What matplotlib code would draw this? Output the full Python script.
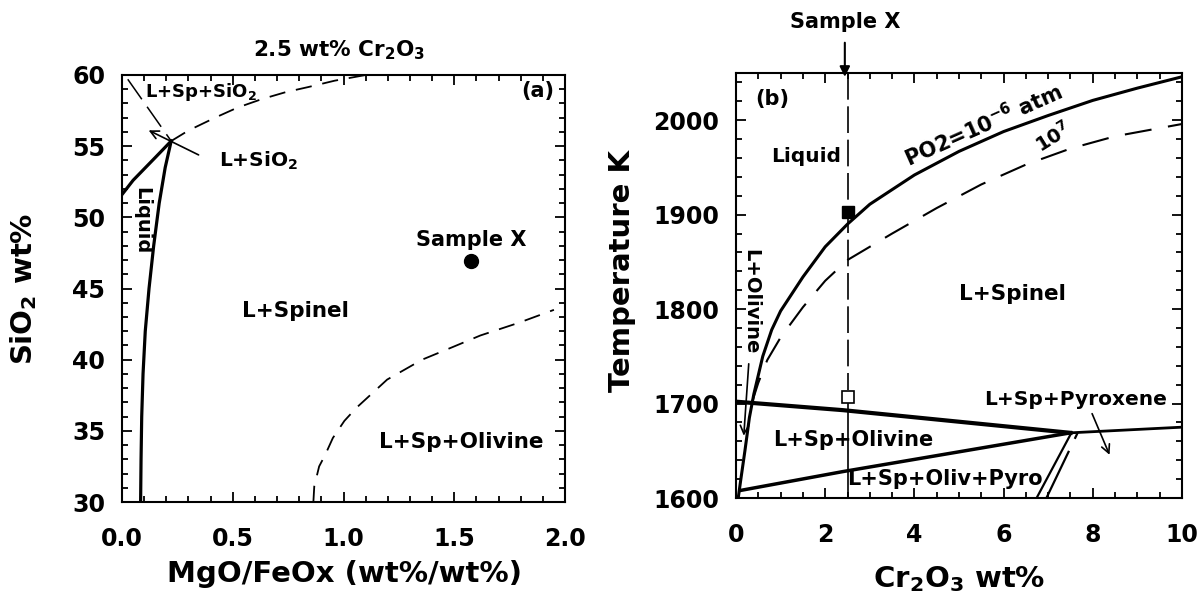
import matplotlib
matplotlib.use("Agg")
import matplotlib.pyplot as plt
from matplotlib.ticker import MultipleLocator, FormatStrFormatter

plt.rcParams['font.family'] = ['DejaVu Sans']
plt.rcParams['font.weight'] = 'bold'
plt.rcParams['axes.labelweight'] = 'bold'
plt.rcParams['mathtext.fontset'] = 'dejavusans'
plt.rcParams['mathtext.default'] = 'bf'

# ---------------- Panel (a) data ----------------
liq_x = [0.084, 0.086, 0.089, 0.095, 0.105, 0.122, 0.143, 0.168, 0.195, 0.222]
liq_y = [30, 33, 36, 39, 42, 45, 48, 51, 53.5, 55.36]
upper_solid_x = [0.0, 0.05, 0.1, 0.15, 0.222]
upper_solid_y = [51.6, 52.6, 53.4, 54.2, 55.36]
sio2_bound_x = [0.026, 0.222]
sio2_bound_y = [59.7, 55.36]
dash_top_x = [0.222, 0.3, 0.42, 0.52, 0.63, 0.74, 0.84, 0.96, 1.1]
dash_top_y = [55.36, 56.1, 57.0, 57.7, 58.3, 58.8, 59.15, 59.6, 60.0]
dash_low_x = [0.864, 0.868, 0.89, 0.917, 0.952, 1.004, 1.057, 1.127, 1.197, 1.355, 1.495, 1.618, 1.793, 1.95]
dash_low_y = [30.0, 31.1, 32.5, 33.3, 34.5, 35.7, 36.6, 37.6, 38.6, 40.0, 40.9, 41.7, 42.6, 43.5]
sample_a_x = [1.576]
sample_a_y = [46.9]

# ---------------- Panel (b) data ----------------
po6_x = [0.05, 0.1, 0.2, 0.3, 0.4, 0.6, 0.8, 1.0, 1.5, 2.0, 2.5, 3.0, 4.0, 5.0, 6.0, 7.0, 8.0, 9.0, 10.0]
po6_y = [1600, 1617, 1650, 1685, 1710, 1750, 1778, 1798, 1834, 1866, 1890, 1911, 1942, 1967, 1988, 2005, 2021, 2034, 2046]
po7_x = [0.35, 0.5, 0.7, 1.0, 1.5, 2.0, 2.5, 3.0, 3.5, 4.5, 5.5, 6.5, 7.5, 8.5, 10.0]
po7_y = [1700, 1722, 1746, 1770, 1802, 1830, 1852, 1866, 1880, 1907, 1932, 1953, 1970, 1983, 1996]
oliv_top_x = [0.0, 2.4, 7.5]
oliv_top_y = [1702, 1693, 1669]
oliv_bot_x = [0.1, 2.4, 7.5]
oliv_bot_y = [1608, 1628, 1669]
pyx_x = [7.5, 10.0]
pyx_y = [1669, 1675]
pyro1_x = [7.52, 6.74]
pyro1_y = [1669, 1600]
pyro2_x = [7.66, 6.96]
pyro2_y = [1669, 1600]
sample_b_x = 2.5
sample_liq_T = [1903]
sample_sol_T = [1707]

fig = plt.figure(figsize=(12, 5.97), dpi=100)
axa = fig.add_axes([122/1200, 95/597, 443/1200, 427/597])
axb = fig.add_axes([736/1200, 99/597, 446/1200, 425/597])

for ax in (axa, axb):
    ax.tick_params(which='both', direction='in', top=True, right=True, width=1.3)
    ax.tick_params(which='major', length=7, labelsize=17)
    ax.tick_params(which='minor', length=4)
    ax.tick_params(axis='x', which='major', pad=18)
    ax.tick_params(axis='y', which='major', pad=12)
    for s in ax.spines.values():
        s.set_linewidth(1.5)

# ---- panel a ----
axa.set_xlim(0, 2.0)
axa.set_ylim(30, 60)
axa.xaxis.set_major_locator(MultipleLocator(0.5))
axa.xaxis.set_minor_locator(MultipleLocator(0.1))
axa.yaxis.set_major_locator(MultipleLocator(5))
axa.yaxis.set_minor_locator(MultipleLocator(1))
axa.xaxis.set_major_formatter(FormatStrFormatter('%.1f'))

axa.plot(liq_x, liq_y, color='black', lw=2.3)
axa.plot(upper_solid_x, upper_solid_y, color='black', lw=2.3)
axa.plot(sio2_bound_x, sio2_bound_y, color='black', lw=1.1, dashes=(16, 6))
axa.plot(dash_top_x, dash_top_y, color='black', lw=1.3, dashes=(9, 6))
axa.plot(dash_low_x, dash_low_y, color='black', lw=1.3, dashes=(9, 6))
axa.plot(sample_a_x, sample_a_y, 'o', color='black', ms=10)

axa.annotate('', xy=(0.109, 56.2), xytext=(0.357, 54.3),
             arrowprops=dict(arrowstyle='->', color='black', lw=1.2, mutation_scale=15))
axa.text(0.105, 58.8, 'L+Sp+SiO$_2$', fontsize=13, ha='left', va='center')
axa.text(0.44, 54.0, 'L+SiO$_2$', fontsize=14.5, ha='left', va='center')
axa.text(1.95, 58.9, '(a)', fontsize=15, ha='right', va='center')
axa.text(0.09, 49.8, 'Liquid', fontsize=14, ha='center', va='center', rotation=-90)
axa.text(1.576, 48.4, 'Sample X', fontsize=15, ha='center', va='center')
axa.text(0.785, 43.4, 'L+Spinel', fontsize=15.5, ha='center', va='center')
axa.text(1.53, 34.2, 'L+Sp+Olivine', fontsize=15.5, ha='center', va='center')
axa.text(0.98, 61.76, '2.5 wt% Cr$_2$O$_3$', fontsize=15.5, ha='center', va='center', clip_on=False)

axa.set_xlabel('MgO/FeOx (wt%/wt%)', fontsize=21)
axa.xaxis.set_label_coords(0.502, -0.136)
axa.set_ylabel('SiO$_2$ wt%', fontsize=21, va='center')
axa.yaxis.set_label_coords(-0.222, 0.50)

# ---- panel b ----
axb.set_xlim(0, 10)
axb.set_ylim(1600, 2050)
axb.xaxis.set_major_locator(MultipleLocator(2))
axb.xaxis.set_minor_locator(MultipleLocator(0.5))
axb.yaxis.set_major_locator(MultipleLocator(100))
axb.yaxis.set_minor_locator(MultipleLocator(20))

axb.plot(po6_x, po6_y, color='black', lw=2.2)
axb.plot(po7_x, po7_y, color='black', lw=1.5, dashes=(13, 8))
axb.plot(oliv_top_x, oliv_top_y, color='black', lw=3.0)
axb.plot(oliv_bot_x, oliv_bot_y, color='black', lw=2.5)
axb.plot(pyx_x, pyx_y, color='black', lw=2.0)
axb.plot(pyro1_x, pyro1_y, color='black', lw=1.6)
axb.plot(pyro2_x, pyro2_y, color='black', lw=1.6, dashes=(3, 6, 40, 0))
axb.plot([sample_b_x, sample_b_x], [2050, 1714], color='black', lw=1.2, dashes=(16, 4))
axb.plot([sample_b_x, sample_b_x], [1700, 1600], color='black', lw=1.2)
axb.plot([sample_b_x], sample_liq_T, 's', color='black', ms=9)
axb.plot([sample_b_x], sample_sol_T, 's', mfc='white', mec='black', mew=1.2, ms=9)

axb.annotate('', xy=(0.17, 1663), xytext=(0.29, 1745),
             arrowprops=dict(arrowstyle='->', color='black', lw=1.2, mutation_scale=15))
axb.annotate('', xy=(8.4, 1643), xytext=(7.96, 1692),
             arrowprops=dict(arrowstyle='->', color='black', lw=1.2, mutation_scale=15))
axb.annotate('', xy=(2.44, 2043), xytext=(2.44, 2085), annotation_clip=False,
             arrowprops=dict(arrowstyle='-|>', color='black', lw=1.5, mutation_scale=15))
axb.text(2.44, 2104, 'Sample X', fontsize=15, ha='center', va='center', clip_on=False)

axb.text(0.44, 2023, '(b)', fontsize=15, ha='left', va='center')
axb.text(1.57, 1962, 'Liquid', fontsize=14.5, ha='center', va='center')
axb.text(5.54, 1995, 'PO2=10$^{-6}$ atm', fontsize=15, ha='center', va='center',
         rotation=24, rotation_mode='anchor')
axb.text(7.1, 1982, '10$^{7}$', fontsize=14, ha='center', va='center',
         rotation=32, rotation_mode='anchor')
axb.text(6.2, 1816, 'L+Spinel', fontsize=15.5, ha='center', va='center')
axb.text(0.33, 1808, 'L+Olivine', fontsize=14, ha='center', va='center', rotation=-90)
axb.text(2.62, 1661, 'L+Sp+Olivine', fontsize=15, ha='center', va='center')
axb.text(4.68, 1620, 'L+Sp+Oliv+Pyro', fontsize=15, ha='center', va='center')
axb.text(7.61, 1704, 'L+Sp+Pyroxene', fontsize=14.5, ha='center', va='center')

axb.set_xlabel('Cr$_2$O$_3$ wt%', fontsize=21)
axb.xaxis.set_label_coords(0.50, -0.155)
axb.set_ylabel('Temperature K', fontsize=21, va='center')
axb.yaxis.set_label_coords(-0.255, 0.535)

fig.savefig('out.png', dpi=100, facecolor='white')
